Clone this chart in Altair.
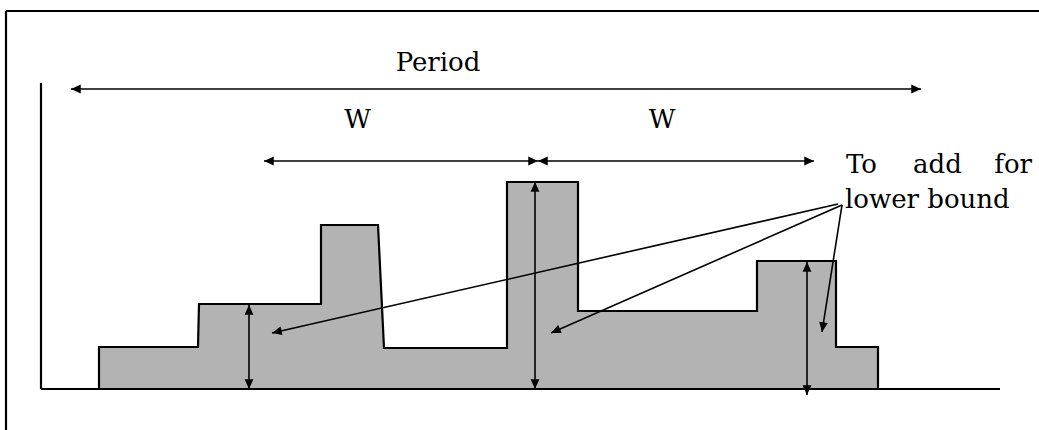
import math
import altair as alt
import pandas as pd

W_PX, H_PX = 1039, 430

# Stepped load profile (time along x, level along y, screen units, y downward)
shape_x = [99, 99, 198, 199, 321, 321, 378, 384, 507, 507, 578, 578, 757, 757, 836, 836, 878, 878]
shape_y = [389, 347, 347, 304, 304, 225, 225, 348, 348, 182, 182, 311, 311, 261, 261, 347, 347, 389]
baseline_y = 389

# Frame and axes segments: x1, y1, x2, y2
frame_x1 = [6, 6, 41, 41]
frame_y1 = [11, 11, 83, 389]
frame_x2 = [1039, 6, 41, 1000]
frame_y2 = [11, 430, 389, 389]

# Double-headed arrows (Period, W, W, and level markers)
darrow_x1 = [71, 264, 538, 249, 535, 807]
darrow_y1 = [89, 161, 161, 305, 182, 262]
darrow_x2 = [921, 538, 814, 249, 535, 807]
darrow_y2 = [89, 161, 161, 389, 389, 395]

# Pointer arrows from the note (head at end)
parrow_x1 = [838, 842, 842]
parrow_y1 = [204, 205, 205]
parrow_x2 = [272, 551, 822]
parrow_y2 = [333, 333, 332]

# Labels
center_text = ["Period", "W", "W", "add"]
center_x = [438, 357.5, 662, 937.5]
center_y = [71, 128, 128, 173]
left_text = ["To", "lower bound"]
left_x = [846, 845]
left_y = [173, 208]
right_text = ["for"]
right_x = [1032]
right_y = [173]

xs = alt.Scale(domain=[0, W_PX], nice=False, zero=False)
ys = alt.Scale(domain=[H_PX, 0], nice=False, zero=False)


def ang(dx, dy):
    return (math.degrees(math.atan2(dx, -dy)) + 360) % 360


shape_df = pd.DataFrame({"x": shape_x, "y": shape_y, "o": list(range(len(shape_x))),
                         "b": [baseline_y] * len(shape_x)})

seg_frame = pd.DataFrame({"x1": frame_x1, "y1": frame_y1, "x2": frame_x2, "y2": frame_y2})
seg_arrows = pd.DataFrame({"x1": darrow_x1 + parrow_x1, "y1": darrow_y1 + parrow_y1,
                           "x2": darrow_x2 + parrow_x2, "y2": darrow_y2 + parrow_y2})

heads = []
for x1, y1, x2, y2 in zip(darrow_x1, darrow_y1, darrow_x2, darrow_y2):
    heads.append({"x": x2, "y": y2, "a": ang(x2 - x1, y2 - y1)})
    heads.append({"x": x1, "y": y1, "a": ang(x1 - x2, y1 - y2)})
for x1, y1, x2, y2 in zip(parrow_x1, parrow_y1, parrow_x2, parrow_y2):
    heads.append({"x": x2, "y": y2, "a": ang(x2 - x1, y2 - y1)})
heads_df = pd.DataFrame(heads)

area = alt.Chart(shape_df).mark_area(color="#b3b3b3", opacity=1, interpolate="linear").encode(
    x=alt.X("x:Q", scale=xs, axis=None),
    y=alt.Y("y:Q", scale=ys, axis=None, stack=None),
    y2="b:Q",
)
outline = alt.Chart(shape_df).mark_line(color="black", strokeWidth=2.2).encode(
    x=alt.X("x:Q", scale=xs, axis=None),
    y=alt.Y("y:Q", scale=ys, axis=None),
    order="o:Q",
)

frame = alt.Chart(seg_frame).mark_rule(color="black", strokeWidth=2.2).encode(
    x=alt.X("x1:Q", scale=xs, axis=None), y=alt.Y("y1:Q", scale=ys, axis=None),
    x2="x2:Q", y2="y2:Q")

arrows = alt.Chart(seg_arrows).mark_rule(color="black", strokeWidth=1.6).encode(
    x=alt.X("x1:Q", scale=xs, axis=None), y=alt.Y("y1:Q", scale=ys, axis=None),
    x2="x2:Q", y2="y2:Q")

arrowheads = alt.Chart(heads_df).mark_point(
    shape="M0,0L-0.45,1L0.45,1Z", filled=True, color="black", opacity=1, size=380, strokeWidth=0
).encode(
    x=alt.X("x:Q", scale=xs, axis=None), y=alt.Y("y:Q", scale=ys, axis=None),
    angle=alt.Angle("a:Q", scale=None),
)


def text_layer(texts, xv, yv, align):
    df = pd.DataFrame({"t": texts, "x": xv, "y": yv})
    return alt.Chart(df).mark_text(
        font="DejaVu Serif", fontSize=26, color="black", align=align, baseline="alphabetic"
    ).encode(x=alt.X("x:Q", scale=xs, axis=None), y=alt.Y("y:Q", scale=ys, axis=None), text="t:N")


chart = alt.layer(
    area, outline, frame, arrows, arrowheads,
    text_layer(center_text, center_x, center_y, "center"),
    text_layer(left_text, left_x, left_y, "left"),
    text_layer(right_text, right_x, right_y, "right"),
).properties(
    width=W_PX, height=H_PX, padding=0, autosize=alt.AutoSizeParams(type="none"),
    background="white",
).configure_view(stroke=None)

chart.save("out.html", embed_options={"renderer": "svg", "actions": False})
